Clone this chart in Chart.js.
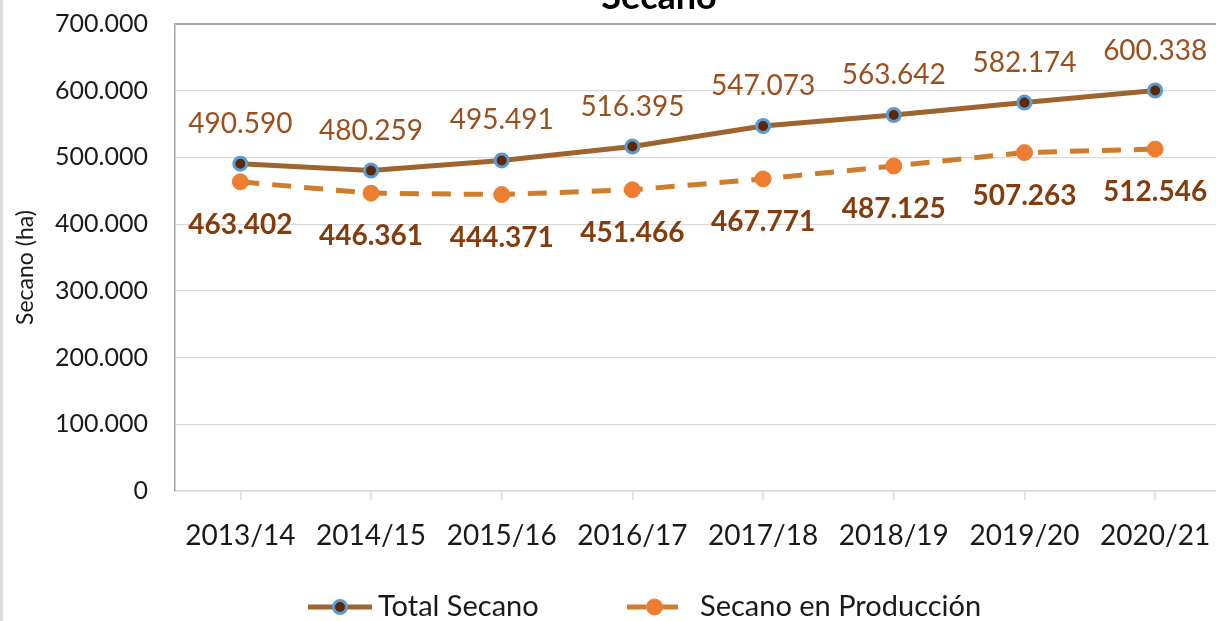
<!DOCTYPE html>
<html>
<head>
<meta charset="utf-8">
<script src="https://cdn.jsdelivr.net/npm/chart.js@4.4.1/dist/chart.umd.min.js"></script>
<style>
  html, body { margin: 0; padding: 0; background: #fff; overflow: hidden; }
  #wrap { position: relative; width: 1216px; height: 621px; overflow: hidden; }
  #chart { position: absolute; left: 0; top: 0; }
  #strip { position: absolute; left: 0; top: 0; width: 3px; height: 621px; background: #dcdcdc; }
</style>
</head>
<body>
<div id="wrap">
  <canvas id="chart" width="1230" height="621"></canvas>
  <div id="strip"></div>
</div>
<script>
// datos
const campanas = ['2013/14', '2014/15', '2015/16', '2016/17', '2017/18', '2018/19', '2019/20', '2020/21'];
const totalSecano = [490590, 480259, 495491, 516395, 547073, 563642, 582174, 600338];
const secanoProduccion = [463402, 446361, 444371, 451466, 467771, 487125, 507263, 512546];
const yTicks = [0, 100000, 200000, 300000, 400000, 500000, 600000, 700000];

const FONT = 'Lato, "Open Sans", sans-serif';

// formato con punto de miles
function fmt(v) {
    return String(Math.round(v)).replace(/\B(?=(\d{3})+(?!\d))/g, '.');
}

// etiquetas de datos (no hay plugin datalabels)
const etiquetas = {
    id: 'etiquetas',
    afterDatasetsDraw(chart) {
        const ctx = chart.ctx;
        chart.data.datasets.forEach((ds, i) => {
            const meta = chart.getDatasetMeta(i);
            const o = ds.etiqueta;
            ctx.save();
            ctx.font = o.font;
            ctx.fillStyle = o.color;
            ctx.textAlign = 'center';
            ctx.textBaseline = 'middle';
            meta.data.forEach((pt, j) => {
                ctx.fillText(fmt(ds.data[j]), pt.x, pt.y + o.dy);
            });
            ctx.restore();
        });
    }
};

// titulo recortado arriba + titulo del eje Y
const titulos = {
    id: 'titulos',
    afterDraw(chart) {
        const ctx = chart.ctx;
        const area = chart.chartArea;
        ctx.save();
        ctx.font = 'bold 36px ' + FONT;
        ctx.fillStyle = '#000';
        ctx.textAlign = 'center';
        ctx.textBaseline = 'alphabetic';
        ctx.fillText('Secano', 659, 9);
        ctx.restore();

        ctx.save();
        ctx.translate(26, (area.top + area.bottom) / 2 + 10);
        ctx.rotate(-Math.PI / 2);
        ctx.font = '23px Lato';
        ctx.fillStyle = '#1a1a1a';
        ctx.textAlign = 'center';
        ctx.textBaseline = 'middle';
        ctx.fillText('Secano (ha)', 0, 0);
        ctx.restore();
    }
};

// leyenda estilo Excel: linea + marcador
const leyenda = {
    id: 'leyenda',
    afterDraw(chart) {
        const ctx = chart.ctx;
        const y = 607;
        const items = [
            { ds: chart.data.datasets[0], x0: 308, x1: 372, tx: 378 },
            { ds: chart.data.datasets[1], x0: 627, x1: 682, tx: 700 }
        ];
        items.forEach(it => {
            const ds = it.ds;
            ctx.save();
            ctx.strokeStyle = ds.borderColor;
            ctx.lineWidth = ds.borderWidth;
            ctx.setLineDash(ds.borderDash || []);
            ctx.beginPath();
            ctx.moveTo(it.x0, y);
            ctx.lineTo(it.x1, y);
            ctx.stroke();
            ctx.setLineDash([]);
            ctx.beginPath();
            ctx.arc((it.x0 + it.x1) / 2, y, ds.pointRadius, 0, Math.PI * 2);
            ctx.fillStyle = ds.pointBackgroundColor;
            ctx.fill();
            ctx.lineWidth = ds.pointBorderWidth;
            ctx.strokeStyle = ds.pointBorderColor;
            ctx.stroke();
            ctx.font = '29px ' + FONT;
            ctx.fillStyle = '#1a1a1a';
            ctx.textAlign = 'left';
            ctx.textBaseline = 'middle';
            ctx.fillText(ds.label, it.tx, y);
            ctx.restore();
        });
    }
};

const ctx = document.getElementById('chart').getContext('2d');
new Chart(ctx, {
    type: 'line',
    data: {
        labels: campanas,
        datasets: [{
            label: 'Total Secano',
            data: totalSecano,
            borderColor: '#9e642e',
            borderWidth: 5,
            tension: 0,
            pointRadius: 6.5,
            pointBackgroundColor: '#5a2a08',
            pointBorderColor: '#5b9bd5',
            pointBorderWidth: 3,
            etiqueta: { font: '28px ' + FONT, color: '#9c4f1e', dy: -40 }
        }, {
            label: 'Secano en Producción',
            data: secanoProduccion,
            borderColor: '#cd7d2c',
            borderWidth: 5,
            borderDash: [19, 13],
            tension: 0,
            pointRadius: 8,
            pointBackgroundColor: '#ed7d31',
            pointBorderColor: '#ed7d31',
            pointBorderWidth: 1,
            etiqueta: { font: 'bold 28px ' + FONT, color: '#843c0c', dy: 43 }
        }]
    },
    options: {
        responsive: false,
        devicePixelRatio: 1,
        animation: false,
        layout: { padding: { top: 24, left: 0, right: 0, bottom: 0 } },
        plugins: {
            legend: { display: false },
            tooltip: { enabled: false },
            title: { display: false }
        },
        scales: {
            x: {
                offset: true,
                grid: { offset: false, drawOnChartArea: false, tickLength: 9, color: '#d9d9d9', lineWidth: 1.5 },
                border: { color: '#d9d9d9', width: 1.5 },
                ticks: { font: { family: FONT, size: 28 }, color: '#1a1a1a', padding: 19, maxRotation: 0 },
                afterFit(scale) {
                    scale.height = 130;
                    scale.paddingLeft = 0;
                    scale.paddingRight = 0;
                }
            },
            y: {
                min: 0,
                max: 700000,
                afterBuildTicks(scale) { scale.ticks = yTicks.map(v => ({ value: v })); },
                grid: {
                    drawTicks: false,
                    color: c => c.tick && c.tick.value === 700000 ? '#a6a6a6' : '#d9d9d9',
                    lineWidth: c => c.tick && c.tick.value === 700000 ? 2 : 1.2
                },
                border: { color: '#a6a6a6', width: 1.5 },
                ticks: {
                    font: { family: FONT, size: 25 },
                    color: '#1a1a1a',
                    padding: 27,
                    callback: v => fmt(v)
                },
                afterFit(scale) {
                    scale.width = 175;
                    scale.paddingTop = 0;
                    scale.paddingBottom = 0;
                }
            }
        }
    },
    plugins: [etiquetas, titulos, leyenda]
});
</script>
</body>
</html>
